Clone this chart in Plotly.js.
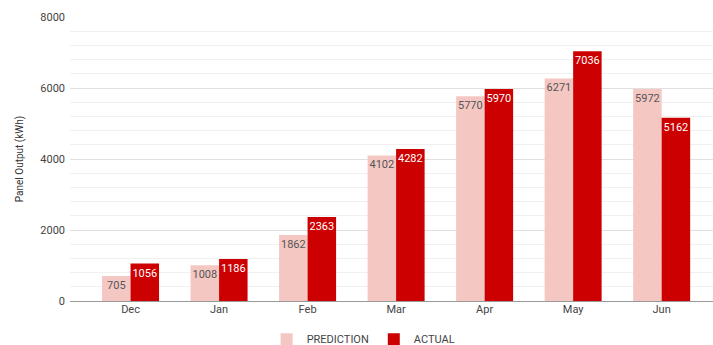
<!DOCTYPE html>
<html>
<head>
<meta charset="utf-8">
<script src="https://cdn.plot.ly/plotly-3.0.1.min.js"></script>
<style>html,body{margin:0;padding:0;background:#fff;}#chart{width:713px;height:345px;}</style>
</head>
<body>
<div id="chart"></div>
<script>
var months = ["Dec", "Jan", "Feb", "Mar", "Apr", "May", "Jun"];
var prediction = [705, 1008, 1862, 4102, 5770, 6271, 5972];
var actual = [1056, 1186, 2363, 4282, 5970, 7036, 5162];
var yTicks = [0, 2000, 4000, 6000, 8000];

var font = "Roboto, 'Liberation Sans', Arial, sans-serif";

var traces = [
  {
    type: "bar", name: "PREDICTION", x: months, y: prediction,
    marker: {color: "#f4c7c3"},
    text: prediction.map(String), textposition: "inside", insidetextanchor: "end",
    textangle: 0, constraintext: "none",
    textfont: {family: font, size: 11, color: "#555555"}
  },
  {
    type: "bar", name: "ACTUAL", x: months, y: actual,
    marker: {color: "#cc0000"},
    text: actual.map(String), textposition: "inside", insidetextanchor: "end",
    textangle: 0, constraintext: "none",
    textfont: {family: font, size: 11, color: "#ffffff"}
  }
];

var layout = {
  width: 713, height: 345,
  margin: {l: 70, r: 0, t: 17, b: 44},
  paper_bgcolor: "#ffffff", plot_bgcolor: "#ffffff",
  font: {family: font, size: 10, color: "#444444"},
  barmode: "group", bargap: 0.356, bargroupgap: 0,
  showlegend: true,
  legend: {
    orientation: "h", xref: "container", yref: "container",
    x: 0.51, xanchor: "center", y: 0.017, yanchor: "middle",
    itemwidth: 30,
    font: {family: font, size: 11, color: "#444444"}
  },
  xaxis: {
    type: "category", range: [-0.684, 6.58],
    showgrid: false, zeroline: false, showline: false,
    ticks: "", tickfont: {family: font, size: 11, color: "#444444"}
  },
  yaxis: {
    range: [0, 8000], tickvals: yTicks, ticktext: yTicks.map(String),
    showgrid: true, gridcolor: "#e0e0e0", gridwidth: 1,
    minor: {dtick: 400, showgrid: true, gridcolor: "#f0f0f0", gridwidth: 1},
    zeroline: true, zerolinecolor: "#999999", zerolinewidth: 1,
    ticks: "", ticklabelstandoff: 4,
    tickfont: {family: font, size: 11, color: "#444444"},
    title: {text: "Panel Output (kWh)", font: {family: font, size: 10, color: "#333333"}, standoff: 14}
  }
};

Plotly.newPlot("chart", traces, layout, {displayModeBar: false, staticPlot: true});
</script>
</body>
</html>
